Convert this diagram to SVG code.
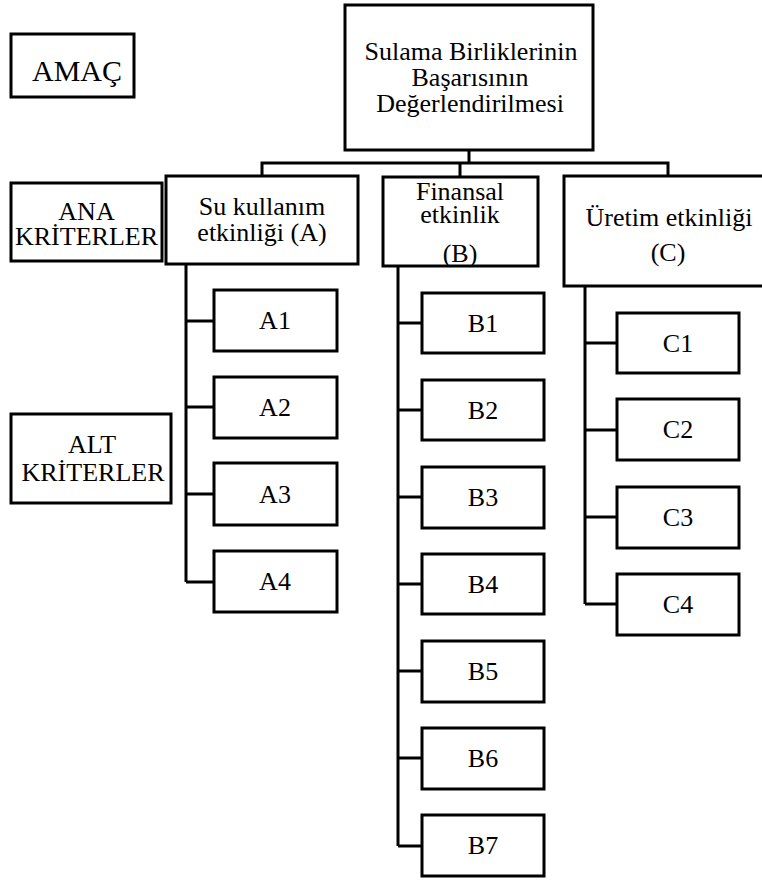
<svg xmlns="http://www.w3.org/2000/svg" width="762" height="880" viewBox="0 0 762 880">
<style>
rect{fill:#fff;stroke:#000;stroke-width:3}
text{font-family:'Liberation Serif','Times New Roman','DejaVu Serif',serif;font-size:26px;fill:#000;text-anchor:middle}
.big{font-size:30px}
#connectors path{fill:none;stroke:#000;stroke-width:3}
</style>
<rect x="0" y="0" width="762" height="880" style="stroke:none"/>
<g id="connectors">
<path d="M469 150V163M262 176V163H668V176M460 163V177"/>
<path d="M186 264V582M186 321H214M186 407H214M186 494H214M186 582H214"/>
<path d="M398 266V846M398 323H422M398 410H422M398 497H422M398 584H422M398 671H422M398 758H422M398 846H422"/>
<path d="M585 286V604M585 343H617M585 430H617M585 517H617M585 604H617"/>
</g>
<g font-family="Liberation Serif, serif">
<g id="amac"><rect x="11" y="34" width="123" height="63"/><text class="big" x="77" y="81">AMAÇ</text></g>
<g id="ana"><rect x="11" y="183" width="151" height="78"/><text x="86.5" y="220">ANA</text><text x="86.5" y="245">KRİTERLER</text></g>
<g id="alt"><rect x="11" y="414" width="160" height="89"/><text x="92" y="453">ALT</text><text x="93" y="481">KRİTERLER</text></g>
<g id="goal"><rect x="345" y="5" width="248" height="145"/><text x="471" y="60">Sulama Birliklerinin</text><text x="470" y="86">Başarısının</text><text x="470" y="112">Değerlendirilmesi</text></g>
<g id="A"><rect x="166" y="176" width="192" height="88"/><text x="262" y="215">Su kullanım</text><text x="262" y="241">etkinliği (A)</text></g>
<g id="B"><rect x="383" y="177" width="155" height="89"/><text x="460" y="200">Finansal</text><text x="460" y="223">etkinlik</text><text x="460" y="262">(B)</text></g>
<g id="C"><rect x="564" y="176" width="202" height="110"/><text x="669" y="226">Üretim etkinliği</text><text x="668" y="261">(C)</text></g>
<g id="A1"><rect x="214" y="290" width="123" height="61"/><text x="275" y="329">A1</text></g>
<g id="A2"><rect x="214" y="377" width="123" height="61"/><text x="275" y="416">A2</text></g>
<g id="A3"><rect x="214" y="463" width="123" height="62"/><text x="275" y="503">A3</text></g>
<g id="A4"><rect x="214" y="551" width="123" height="61"/><text x="275" y="590">A4</text></g>
<g id="B1"><rect x="422" y="293" width="122" height="60"/><text x="483" y="332">B1</text></g>
<g id="B2"><rect x="422" y="380" width="122" height="60"/><text x="483" y="419">B2</text></g>
<g id="B3"><rect x="422" y="467" width="122" height="61"/><text x="483" y="506">B3</text></g>
<g id="B4"><rect x="422" y="554" width="122" height="60"/><text x="483" y="593">B4</text></g>
<g id="B5"><rect x="422" y="641" width="122" height="61"/><text x="483" y="680">B5</text></g>
<g id="B6"><rect x="422" y="728" width="122" height="61"/><text x="483" y="767">B6</text></g>
<g id="B7"><rect x="422" y="815" width="122" height="61"/><text x="483" y="854">B7</text></g>
<g id="C1"><rect x="617" y="313" width="122" height="60"/><text x="678" y="352">C1</text></g>
<g id="C2"><rect x="617" y="399" width="122" height="61"/><text x="678" y="438">C2</text></g>
<g id="C3"><rect x="617" y="487" width="122" height="61"/><text x="678" y="526">C3</text></g>
<g id="C4"><rect x="617" y="574" width="122" height="61"/><text x="678" y="613">C4</text></g>
</g>
</svg>
